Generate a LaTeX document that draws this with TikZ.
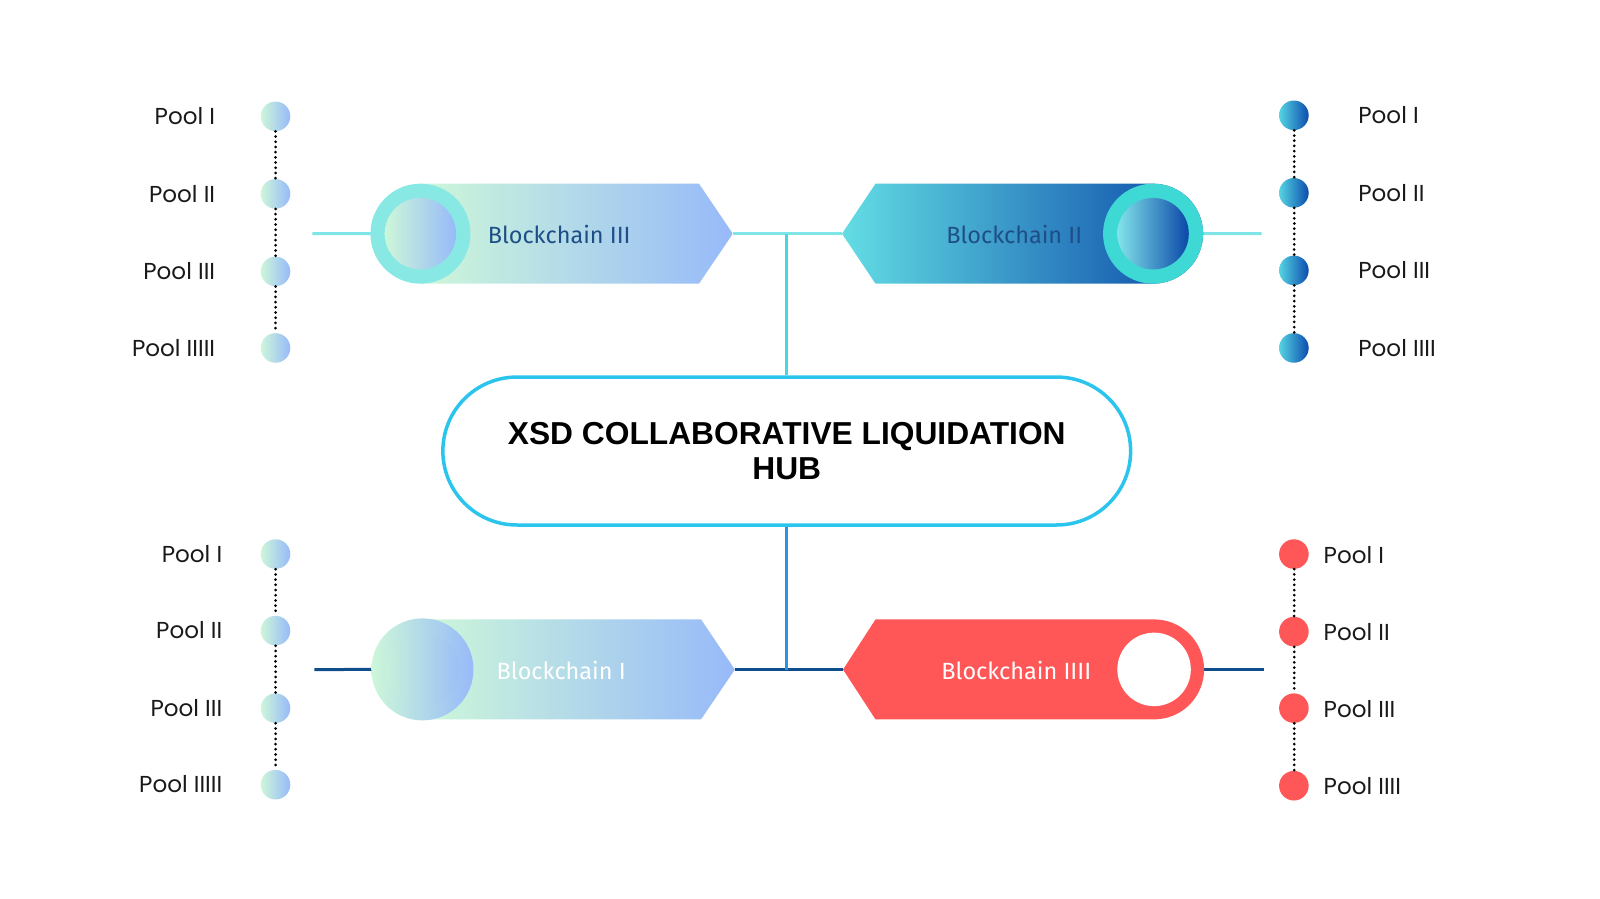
\documentclass[tikz,border=0pt]{standalone}
\usepackage{fontspec}
\setmainfont{Poppins}
\newfontfamily\chainfont{Fira Sans}
\newfontfamily\hubfont{Liberation Sans}

\definecolor{mintc}{HTML}{CDF7D9}
\definecolor{periw}{HTML}{97BAF9}
\definecolor{ringthree}{HTML}{88E8E4}
\definecolor{ringtwo}{HTML}{3ED8D5}
\definecolor{navytext}{HTML}{1D4F86}
\definecolor{cyanl}{HTML}{63DDE4}
\definecolor{deepblue}{HTML}{0A47A8}
\definecolor{poolcyan}{HTML}{55D4E2}
\definecolor{poolblue}{HTML}{0B4CAE}
\definecolor{redc}{HTML}{FF5757}
\definecolor{hubline}{HTML}{2AC4EC}
\definecolor{toplinec}{HTML}{7FE5E6}
\definecolor{topvert}{HTML}{45D9DF}
\definecolor{botlinec}{HTML}{0F4D8C}
\definecolor{botvert}{HTML}{2C93DC}

\tikzset{
  pooldot/.style={shape=circle,inner sep=0pt,minimum size=29pt},
  poolmint/.style={pooldot,left color=mintc,right color=periw},
  poolsea/.style={pooldot,left color=poolcyan,right color=poolblue},
  poolred/.style={pooldot,fill=redc},
  poolchain/.style={line width=3pt,line cap=round,dash pattern=on 0pt off 5.2pt,black},
  poollabel/.style={font=\fontsize{22.6}{27}\selectfont,text=black!90,inner sep=0pt},
  chaintext/.style={font=\chainfont\fontsize{23}{27}\selectfont,inner sep=0pt},
  ringnode/.style={shape=circle,inner sep=0pt},
  hubbox/.style={shape=rectangle,draw=hubline,line width=3.5pt,rounded corners=74pt,
    minimum width=674pt,minimum height=145pt,align=center,
    font=\hubfont\bfseries\fontsize{31.1}{33.5}\selectfont},
  topline/.style={line width=3pt,toplinec},
  botline/.style={line width=3pt,botlinec}
}

\begin{document}
\begin{tikzpicture}[x=1pt,y=-1pt,scale=1.0204,transform shape]
    \useasboundingbox (0,0) rectangle (1568,881);

    \node[hubbox] (hub) at (771,442) {XSD COLLABORATIVE LIQUIDATION\\HUB};

    \coordinate (b3stub) at (306,229);
    \coordinate (b3tip) at (718,229);
    \coordinate (b2tip) at (825,229);
    \coordinate (b2stub) at (1236,229);
    \coordinate (topjoin) at (771,229);
    \coordinate (b1stub) at (308,656);
    \coordinate (b1tip) at (720,656);
    \coordinate (b4tip) at (826,656);
    \coordinate (b4end) at (1180,656);
    \coordinate (b4stub) at (1238,656);
    \coordinate (botjoin) at (771,656);

    \draw[topline] (b3stub) -- (412,229);
    \draw[topline] (b3tip) -- (b2tip);
    \draw[topline] (1130,229) -- (b2stub);
    \draw[line width=3pt,topvert] (topjoin) -- (hub.north);
    \draw[botline] (b1stub) -- (414,656);
    \draw[botline] (b1tip) -- (b4tip);
    \draw[botline] (b4end) -- (b4stub);
    \draw[line width=3pt,botvert] (hub.south) -- (botjoin);

    \shade[left color=mintc,right color=periw] (412,180) -- (685,180) -- (b3tip) -- (685,278) -- (412,278) -- cycle;
    \node[ringnode,fill=ringthree,minimum size=98pt] (b3ring) at (412,229) {};
    \node[ringnode,left color=mintc,right color=periw,minimum size=70pt] (b3core) at (412,229) {};
    \node[chaintext,text=navytext] (b3) at (548,230) {Blockchain III};

    \shade[left color=cyanl,right color=deepblue] (b2tip) -- (858,180) -- (1130,180) arc[start angle=-90,end angle=90,radius=49] -- (858,278) -- cycle;
    \node[ringnode,fill=ringtwo,minimum size=98pt] (b2ring) at (1130,229) {};
    \node[ringnode,left color=cyanl!80!white,right color=deepblue,minimum size=70pt] (b2core) at (1130,229) {};
    \node[chaintext,text=navytext] (b2) at (994,230) {Blockchain II};

    \shade[left color=mintc,right color=periw] (414,607) -- (687,607) -- (b1tip) -- (687,705) -- (414,705) -- cycle;
    \node[ringnode,left color=mintc,right color=periw,minimum size=100pt] (b1ring) at (414,656) {};
    \node[ringnode,left color=mintc,right color=periw,minimum size=72pt,opacity=0.35] (b1core) at (414,656) {};
    \node[chaintext,text=white] (b1) at (550,657) {Blockchain I};

    \fill[redc] (b4tip) -- (858,607) -- (1131,607) arc[start angle=-90,end angle=90,radius=49] -- (858,705) -- cycle;
    \node[ringnode,fill=white,minimum size=72pt] (b4hole) at (1131,656) {};
    \node[chaintext,text=white] (b4) at (996,657) {Blockchain IIII};

    \node[poolmint] (tl1) at (270,114) {};
    \node[poolmint] (tl2) at (270,190) {};
    \node[poolmint] (tl3) at (270,266) {};
    \node[poolmint] (tl4) at (270,341) {};
    \node[poollabel,anchor=base east] (tl1t) at (211,122) {Pool I};
    \node[poollabel,anchor=base east] (tl2t) at (211,198) {Pool II};
    \node[poollabel,anchor=base east] (tl3t) at (211,274) {Pool III};
    \node[poollabel,anchor=base east] (tl4t) at (211,349) {Pool IIIII};

    \node[poolsea] (tr1) at (1268,113) {};
    \node[poolsea] (tr2) at (1268,189) {};
    \node[poolsea] (tr3) at (1268,265) {};
    \node[poolsea] (tr4) at (1268,341) {};
    \node[poollabel,anchor=base west] (tr1t) at (1331,121) {Pool I};
    \node[poollabel,anchor=base west] (tr2t) at (1331,197) {Pool II};
    \node[poollabel,anchor=base west] (tr3t) at (1331,273) {Pool III};
    \node[poollabel,anchor=base west] (tr4t) at (1331,349) {Pool IIII};

    \node[poolmint] (bl1) at (270,543) {};
    \node[poolmint] (bl2) at (270,618) {};
    \node[poolmint] (bl3) at (270,694) {};
    \node[poolmint] (bl4) at (270,769) {};
    \node[poollabel,anchor=base east] (bl1t) at (218,551) {Pool I};
    \node[poollabel,anchor=base east] (bl2t) at (218,626) {Pool II};
    \node[poollabel,anchor=base east] (bl3t) at (218,702) {Pool III};
    \node[poollabel,anchor=base east] (bl4t) at (218,777) {Pool IIIII};

    \node[poolred] (br1) at (1268,543) {};
    \node[poolred] (br2) at (1268,619) {};
    \node[poolred] (br3) at (1268,694) {};
    \node[poolred] (br4) at (1268,770) {};
    \node[poollabel,anchor=base west] (br1t) at (1297,552) {Pool I};
    \node[poollabel,anchor=base west] (br2t) at (1297,628) {Pool II};
    \node[poollabel,anchor=base west] (br3t) at (1297,703) {Pool III};
    \node[poollabel,anchor=base west] (br4t) at (1297,779) {Pool IIII};

    \path[poolchain] (tl1) edge (tl2) (tl2) edge (tl3) (tl3) edge (tl4);
    \path[poolchain] (tr1) edge (tr2) (tr2) edge (tr3) (tr3) edge (tr4);
    \path[poolchain] (bl1) edge (bl2) (bl2) edge (bl3) (bl3) edge (bl4);
    \path[poolchain] (br1) edge (br2) (br2) edge (br3) (br3) edge (br4);
\end{tikzpicture}
\end{document}
